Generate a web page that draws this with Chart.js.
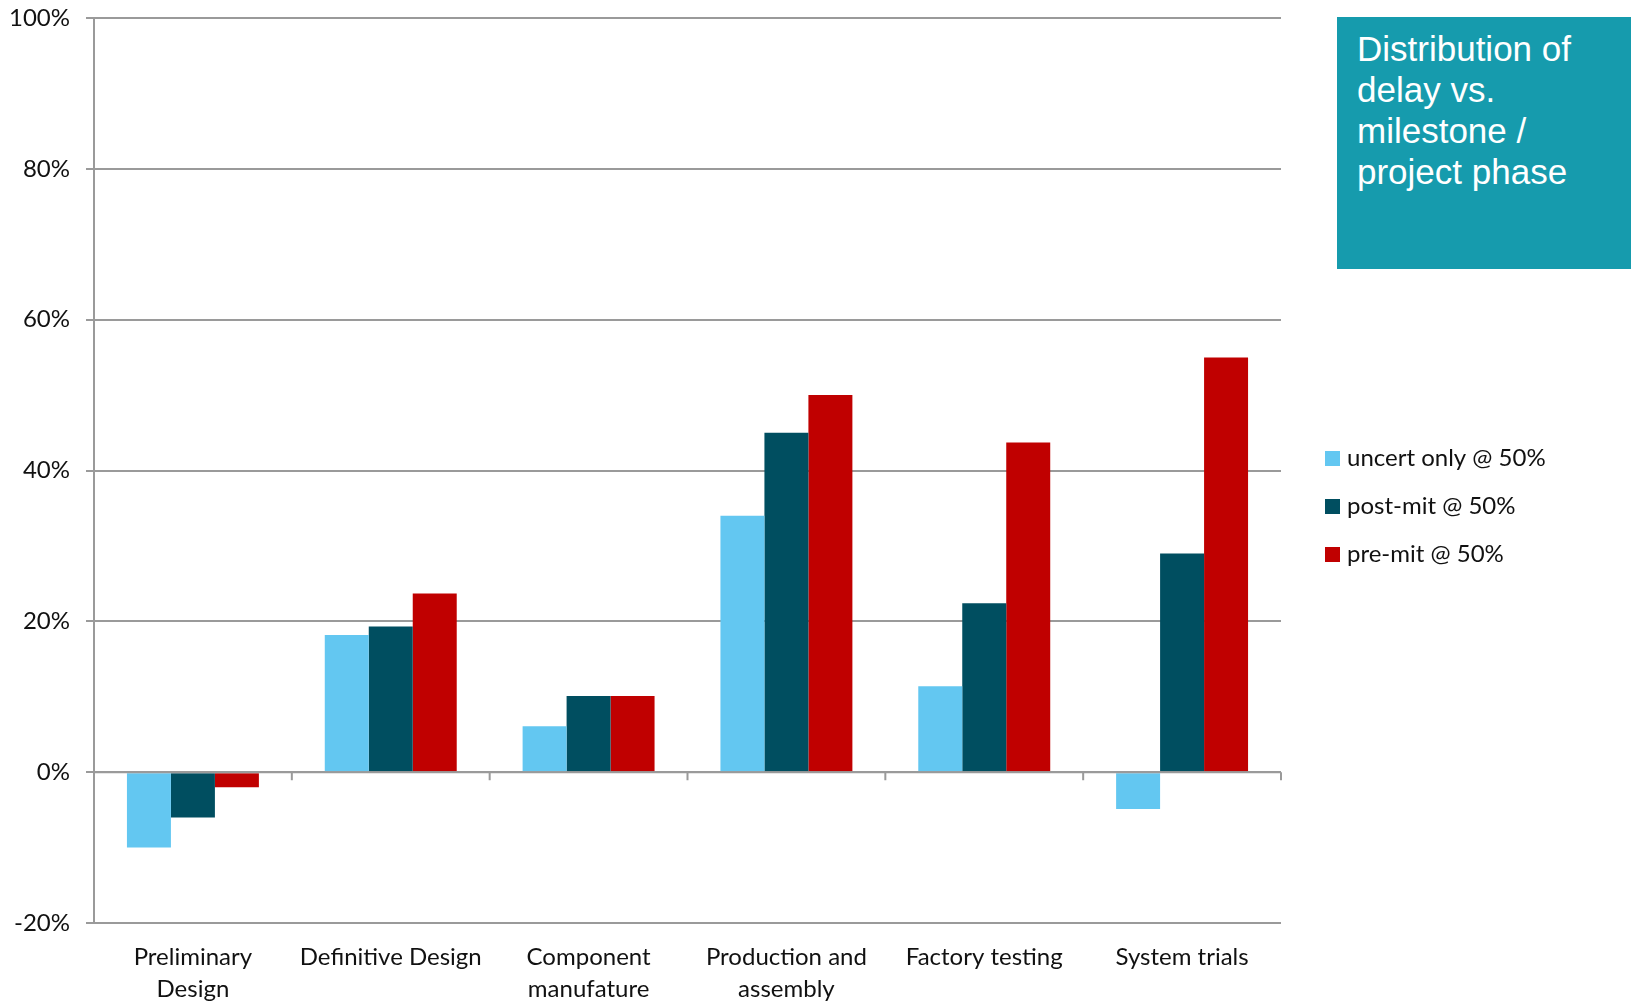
<!DOCTYPE html>
<html>
<head>
<meta charset="utf-8">
<script src="https://cdn.jsdelivr.net/npm/chart.js@4"></script>
<style>
  html, body { margin: 0; padding: 0; background: #fff; }
  #wrap { position: relative; width: 1640px; height: 1003px; }
  #titleBox {
    position: absolute; left: 1337px; top: 17px; width: 294px; height: 252px;
    background: #169bad; color: #fff; box-sizing: border-box;
    padding: 11px 0 0 20px;
    font-family: "Liberation Sans", Arial, sans-serif; font-size: 35px; line-height: 41px;
  }
</style>
</head>
<body>
<div id="wrap">
  <canvas id="chart" width="1640" height="1003"></canvas>
  <div id="titleBox">Distribution of<br>delay vs.<br>milestone /<br>project phase</div>
</div>
<script>
// data (in %)
const phases = [["Preliminary", "Design"], "Definitive Design", ["Component", "manufature"],
  ["Production and", "assembly"], "Factory testing", "System trials"];
const uncertOnly = [-10, 18.2, 6.1, 34, 11.4, -4.9];
const postMit = [-6, 19.3, 10.1, 45, 22.4, 29];
const preMit = [-2, 23.7, 10.1, 50, 43.7, 55];
const seriesNames = ["uncert only @ 50%", "post-mit @ 50%", "pre-mit @ 50%"];
const seriesColors = ["#63c7f1", "#004e60", "#c00000"];
const yTicks = [-20, 0, 20, 40, 60, 80, 100];

const font = "Lato, 'Noto Sans', sans-serif";
const gridColor = "#9a9a9a";

// little tick marks on the zero line between categories
const zeroTicks = {
  id: "zeroTicks",
  afterDatasetsDraw(chart) {
    const { ctx, scales: { x, y } } = chart;
    const y0 = y.getPixelForValue(0);
    const step = (x.right - x.left) / phases.length;
    ctx.save();
    ctx.strokeStyle = gridColor;
    ctx.lineWidth = 2;
    ctx.beginPath();
    ctx.moveTo(x.left, y0);
    ctx.lineTo(x.right, y0);
    for (let i = 1; i <= phases.length; i++) {
      ctx.moveTo(x.left + i * step, y0);
      ctx.lineTo(x.left + i * step, y0 + 8);
    }
    ctx.stroke();
    ctx.restore();
  }
};

// legend on the right, as in the original
const sideLegend = {
  id: "sideLegend",
  afterDraw(chart) {
    const ctx = chart.ctx;
    ctx.save();
    ctx.font = "24px " + font;
    ctx.textBaseline = "middle";
    chart.data.datasets.forEach((ds, i) => {
      const cy = 458 + i * 48;
      ctx.fillStyle = ds.backgroundColor;
      ctx.fillRect(1325, cy - 7, 15, 15);
      ctx.fillStyle = "#111";
      ctx.fillText(ds.label, 1347, cy);
    });
    ctx.restore();
  }
};

new Chart(document.getElementById("chart"), {
  type: "bar",
  data: {
    labels: phases,
    datasets: [uncertOnly, postMit, preMit].map((d, i) => ({
      label: seriesNames[i],
      data: d,
      backgroundColor: seriesColors[i],
      borderWidth: 0,
      categoryPercentage: 0.667,
      barPercentage: 1
    }))
  },
  options: {
    responsive: false,
    animation: false,
    layout: { autoPadding: false, padding: { left: 0, right: 359, top: 18, bottom: 0 } },
    plugins: { legend: { display: false }, tooltip: { enabled: false } },
    scales: {
      x: {
        grid: { display: false, drawTicks: false },
        border: { display: false },
        ticks: { color: "#111", font: { family: font, size: 24, lineHeight: 1.3 }, padding: 19, maxRotation: 0, autoSkip: false },
        afterFit(s) { s.height = 80; s.paddingLeft = 0; s.paddingRight = 0; }
      },
      y: {
        min: -20, max: 100,
        afterBuildTicks(s) { s.ticks = yTicks.map(v => ({ value: v })); },
        grid: { color: gridColor, lineWidth: 2, tickLength: 8 },
        border: { color: gridColor, width: 2 },
        ticks: { color: "#111", font: { family: font, size: 24 }, padding: 16, callback: v => v + "%" },
        afterFit(s) { s.width = 94; s.paddingTop = 0; s.paddingBottom = 0; }
      }
    }
  },
  plugins: [zeroTicks, sideLegend]
});
</script>
</body>
</html>
